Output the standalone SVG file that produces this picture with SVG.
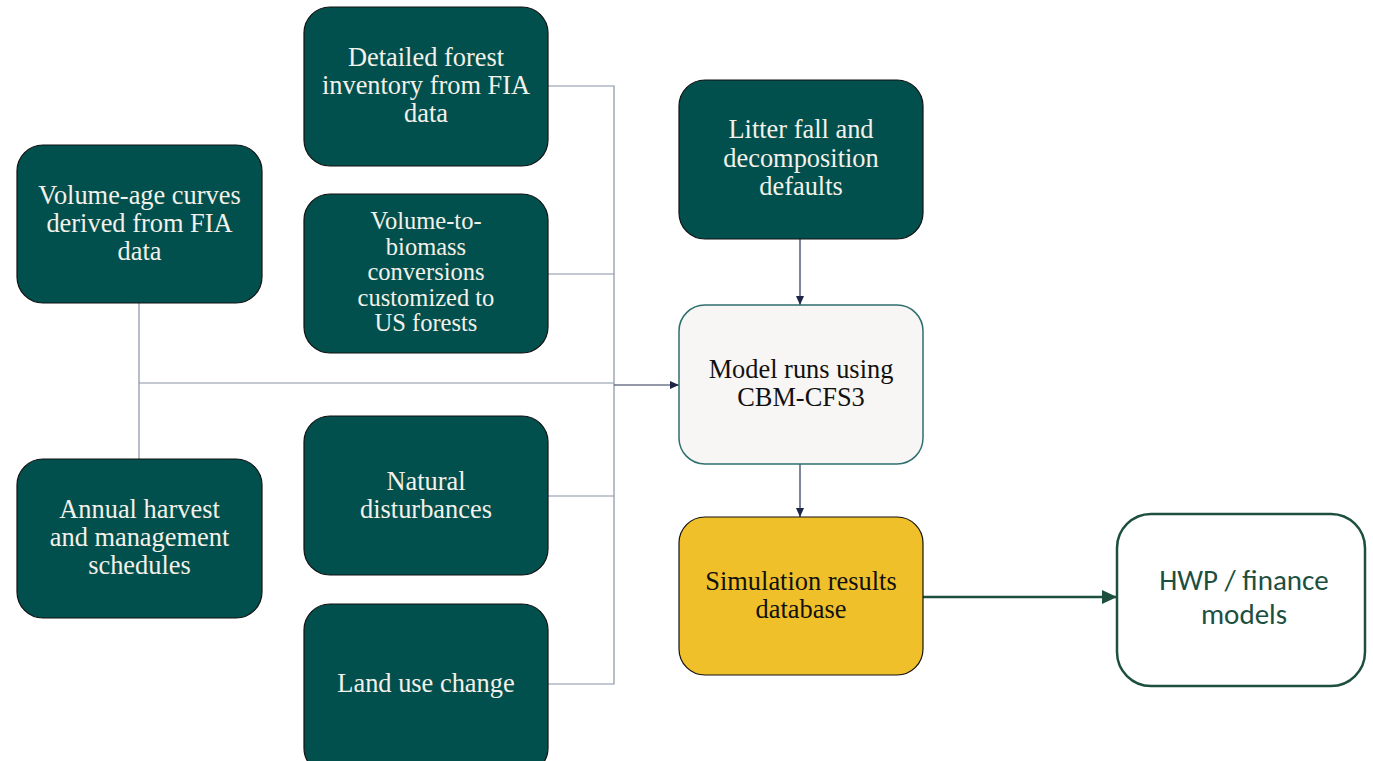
<svg xmlns="http://www.w3.org/2000/svg" width="1373" height="761" viewBox="0 0 1373 761">
  <defs>
    <marker id="arrowSmall" markerWidth="10" markerHeight="10" refX="9" refY="5" orient="auto" markerUnits="userSpaceOnUse">
      <path d="M0,1 L9,5 L0,9 Z" fill="#1c2547"/>
    </marker>
    <marker id="arrowBig" markerWidth="16" markerHeight="16" refX="15" refY="8" orient="auto" markerUnits="userSpaceOnUse">
      <path d="M0,1 L15,8 L0,15 Z" fill="#1d4f3f"/>
    </marker>
    <style>
      .dark { fill: #02504d; stroke: #111; stroke-width: 1.2; }
      .model { fill: #f7f6f4; stroke: #2f6e6e; stroke-width: 1.5; }
      .sim { fill: #f0c02a; stroke: #111; stroke-width: 1.2; }
      .hwp { fill: #ffffff; stroke: #1d4f3f; stroke-width: 2.5; }
      .t { font-family: "Liberation Serif", "DejaVu Serif", serif; font-size: 26.4px; text-anchor: middle; }
      .tight { font-size: 24.5px; }
      .light { fill: #f3f1ea; }
      .ink { fill: #111; }
      .sans { font-family: Carlito, "Liberation Sans", "Open Sans", sans-serif; font-size: 29px; text-anchor: middle; fill: #1d4f3f; }
      .feed { stroke: #8793a6; stroke-width: 1.2; fill: none; }
      .flow { stroke: #2b3556; stroke-width: 1.2; fill: none; }
      .out { stroke: #1d4f3f; stroke-width: 2.5; fill: none; }
    </style>
  </defs>
  <rect width="1373" height="761" fill="#ffffff"/>

  <g id="connectors">
    <!-- input bus -->
    <polyline class="feed" points="548,86 614,86 614,684 548,684"/>
    <line class="feed" x1="548" y1="274" x2="614" y2="274"/>
    <line class="feed" x1="548" y1="496" x2="614" y2="496"/>
    <line class="feed" x1="139" y1="303" x2="139" y2="459"/>
    <line class="feed" x1="139" y1="383" x2="614" y2="383"/>
    <line class="flow" x1="614" y1="385" x2="679" y2="385" marker-end="url(#arrowSmall)"/>
    <line class="flow" x1="800" y1="239" x2="800" y2="305" marker-end="url(#arrowSmall)"/>
    <line class="flow" x1="800" y1="464" x2="800" y2="517" marker-end="url(#arrowSmall)"/>
    <line class="out" x1="923" y1="597" x2="1117" y2="597" marker-end="url(#arrowBig)"/>
  </g>

  <g id="volume-age">
    <rect class="dark" x="17" y="145" width="245" height="158" rx="26"/>
    <text class="t light"><tspan x="139.5" y="204">Volume-age curves</tspan><tspan x="139.5" y="232">derived from FIA</tspan><tspan x="139.5" y="260">data</tspan></text>
  </g>

  <g id="annual-harvest">
    <rect class="dark" x="17" y="459" width="245" height="159" rx="26"/>
    <text class="t light"><tspan x="139.5" y="518">Annual harvest</tspan><tspan x="139.5" y="546">and management</tspan><tspan x="139.5" y="574">schedules</tspan></text>
  </g>

  <g id="forest-inventory">
    <rect class="dark" x="304" y="7" width="244" height="159" rx="26"/>
    <text class="t light"><tspan x="426" y="66">Detailed forest</tspan><tspan x="426" y="94">inventory from FIA</tspan><tspan x="426" y="122">data</tspan></text>
  </g>

  <g id="volume-to-biomass">
    <rect class="dark" x="304" y="194" width="244" height="159" rx="26"/>
    <text class="t tight light"><tspan x="426" y="229">Volume-to-</tspan><tspan x="426" y="254.5">biomass</tspan><tspan x="426" y="280">conversions</tspan><tspan x="426" y="305.5">customized to</tspan><tspan x="426" y="331">US forests</tspan></text>
  </g>

  <g id="natural-disturbances">
    <rect class="dark" x="304" y="416" width="244" height="159" rx="26"/>
    <text class="t light"><tspan x="426" y="490">Natural</tspan><tspan x="426" y="518">disturbances</tspan></text>
  </g>

  <g id="land-use-change">
    <rect class="dark" x="304" y="604" width="244" height="170" rx="26"/>
    <text class="t light"><tspan x="426" y="692">Land use change</tspan></text>
  </g>

  <g id="litter-fall">
    <rect class="dark" x="679" y="80" width="244" height="159" rx="26"/>
    <text class="t light"><tspan x="801" y="138">Litter fall and</tspan><tspan x="801" y="167">decomposition</tspan><tspan x="801" y="195">defaults</tspan></text>
  </g>

  <g id="model-runs">
    <rect class="model" x="679" y="305" width="244" height="159" rx="26"/>
    <text class="t ink"><tspan x="801" y="378">Model runs using</tspan><tspan x="801" y="406">CBM-CFS3</tspan></text>
  </g>

  <g id="simulation-results">
    <rect class="sim" x="679" y="517" width="244" height="158" rx="26"/>
    <text class="t ink"><tspan x="801" y="590">Simulation results</tspan><tspan x="801" y="618">database</tspan></text>
  </g>

  <g id="hwp-finance">
    <rect class="hwp" x="1117" y="514" width="248" height="172" rx="34"/>
    <text class="sans"><tspan x="1244" y="590">HWP / finance</tspan><tspan x="1244" y="624">models</tspan></text>
  </g>
</svg>
